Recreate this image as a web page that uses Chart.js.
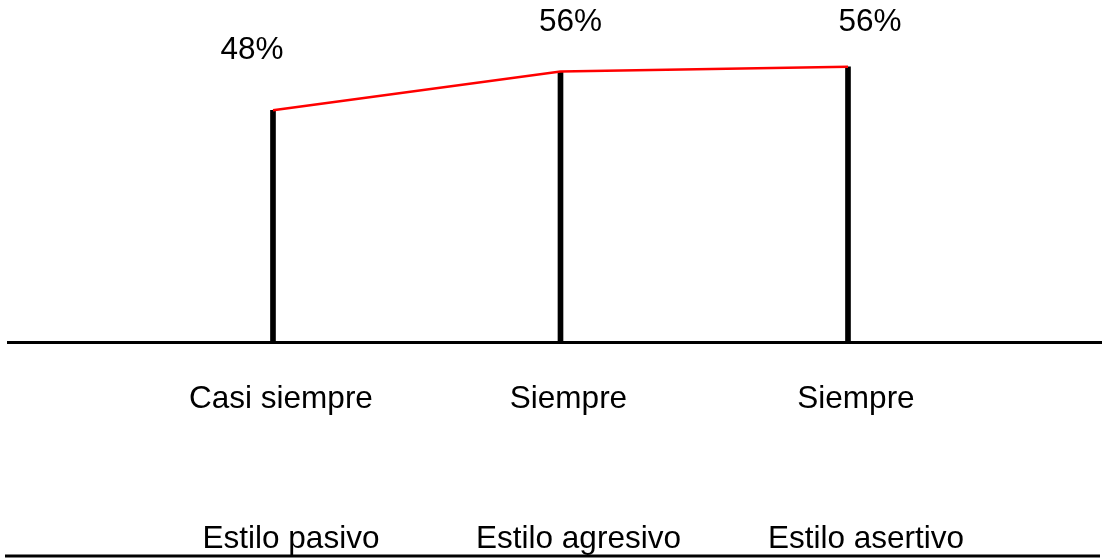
<!DOCTYPE html>
<html>
<head>
<meta charset="utf-8">
<title>Estilos</title>
<script src="https://cdn.jsdelivr.net/npm/chart.js@4/dist/chart.umd.min.js"></script>
<style>
  html, body { margin: 0; padding: 0; background: #fff; }
  #wrap { width: 1102px; height: 560px; position: relative; }
</style>
</head>
<body>
<div id="wrap"><canvas id="chart"></canvas></div>
<script>
'use strict'

var estilos = ["Estilo pasivo", "Estilo agresivo", "Estilo asertivo"];
var frecuencia = ["Casi siempre", "Siempre", "Siempre"];
var porcentajes = [48, 56, 57];
var etiquetas = ["48%", "56%", "56%"];

var FONT = "'Liberation Sans', Arial, sans-serif";

// label nudges (px) so the percentages sit where the original puts them
var nudge = [{dx: -21, dy: 60}, {dx: 10, dy: 49}, {dx: 22, dy: 44}];

var percentLabels = {
  id: 'percentLabels',
  afterDatasetsDraw: function (chart) {
    var meta = chart.getDatasetMeta(0);
    var ctx = chart.ctx;
    ctx.save();
    ctx.font = '31.5px ' + FONT;
    ctx.fillStyle = '#000';
    ctx.textAlign = 'center';
    ctx.textBaseline = 'middle';
    meta.data.forEach(function (el, i) {
      ctx.fillText(etiquetas[i], el.x + nudge[i].dx, el.y - nudge[i].dy);
    });
    ctx.restore();
  }
};

var bottomRule = {
  id: 'bottomRule',
  afterDraw: function (chart) {
    var ctx = chart.ctx;
    ctx.save();
    ctx.strokeStyle = '#000';
    ctx.lineWidth = 3;
    ctx.beginPath();
    ctx.moveTo(5, chart.height - 4);
    ctx.lineTo(1100, chart.height - 4);
    ctx.stroke();
    ctx.restore();
  }
};

function fixedTicks(axis) {
  axis.ticks = estilos.map(function (_, i) { return {value: i}; });
}

var points = porcentajes.map(function (v, i) { return {x: i, y: v}; });

new Chart(document.getElementById('chart').getContext('2d'), {
  type: 'bar',
  data: {
    datasets: [
      {
        type: 'bar',
        data: points,
        backgroundColor: '#000',
        barThickness: 5,
        order: 2
      }, {
        type: 'line',
        data: points,
        borderColor: '#ff0000',
        borderWidth: 2.5,
        pointRadius: 0,
        tension: 0,
        order: 1
      }
    ]
  },
  options: {
    responsive: true,
    maintainAspectRatio: false,
    animation: false,
    layout: { padding: { top: 4, left: 8, right: 0, bottom: 4 } },
    plugins: { legend: { display: false }, tooltip: { enabled: false } },
    scales: {
      x: {
        type: 'linear',
        position: 'bottom',
        offset: false,
        min: -0.9217,
        max: 2.8835,
        afterBuildTicks: fixedTicks,
        afterFit: function (scale) { scale.height = 76; },
        grid: { display: false, drawTicks: false },
        border: { display: true, color: '#000', width: 3 },
        ticks: {
          autoSkip: false,
          maxRotation: 0,
          padding: 38,
          labelOffset: 8,
          color: '#000',
          font: { family: FONT, size: 31.5 },
          callback: function (v) { return frecuencia[v]; }
        }
      },
      x2: {
        type: 'linear',
        position: 'bottom',
        offset: false,
        min: -0.9217,
        max: 2.8835,
        afterBuildTicks: fixedTicks,
        afterFit: function (scale) { scale.height = 138; },
        grid: { display: false, drawTicks: false },
        border: { display: false },
        ticks: {
          autoSkip: false,
          maxRotation: 0,
          padding: 102,
          labelOffset: 18,
          color: '#000',
          font: { family: FONT, size: 31.5 },
          callback: function (v) { return estilos[v]; }
        }
      },
      y: {
        display: false,
        min: 0,
        max: 70
      }
    }
  },
  plugins: [percentLabels, bottomRule]
});
</script>
</body>
</html>
